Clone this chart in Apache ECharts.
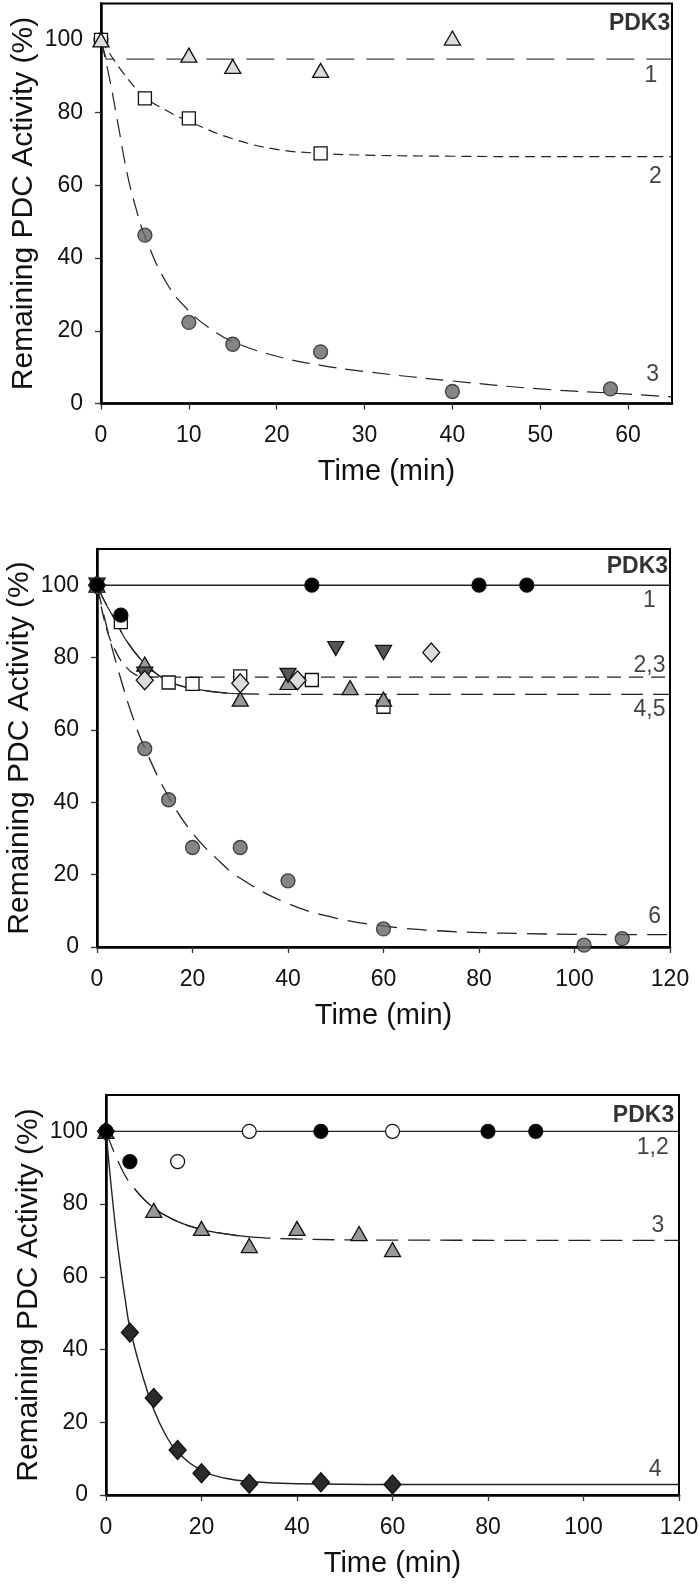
<!DOCTYPE html>
<html>
<head>
<meta charset="utf-8">
<script src="https://cdn.jsdelivr.net/npm/echarts@6/dist/echarts.min.js"></script>
<style>
html,body{margin:0;padding:0;background:#fff;}
#c{width:700px;height:1584px;}
</style>
</head>
<body>
<div id="c"></div>
<script>
// ---------- Data ----------
// Panel 1 (0-65 min)
const p1Triangles = [[0,100],[10,95.8],[15,92.7],[25,91.6],[40,100.5]];
const p1Squares   = [[0,100],[5,83.9],[10,78.4],[25,68.8]];
const p1Circles   = [[0,100],[5,46.3],[10,22.3],[15,16.3],[25,14.2],[40,3.3],[58,4.0]];
const p1Fit1 = [[0,100],[0.6,94.7],[65,94.7]];
const p1Fit2 = [[0,100],[2.5,91],[5,84.3],[7.5,80.5],[10,77.6],[15,72.8],[20,69.9],[25,68.8],[30,68.3],[40,68],[50,67.9],[65,67.9]];
const p1Fit3 = [[0,100],[1,89],[2,76],[3,63],[4,53.5],[5,46],[7.5,33],[10,25.5],[12.5,20.5],[15,17],[20,13],[25,10.5],[30,8.8],[40,6.2],[50,4.0],[60,2.6],[65,1.8]];
const p1Labels = [[64.8,104.4,'PDK3'],[62.6,90.1,'1'],[63.1,62.4,'2'],[62.8,7.8,'3']];

// Panel 2 (0-120 min)
const p2Black     = [[0,100],[5,91.7],[45,100],[80,100],[90,100]];
const p2Squares   = [[0,100],[5,89.8],[15,73.1],[20,72.7],[30,74.8],[45,73.8],[60,66.4]];
const p2Diamonds  = [[0,100],[10,73.7],[30,72.9],[42,73.7],[70,81.4]];
const p2DownTri   = [[0,100],[10,75.4],[40,75.1],[50,82.5],[60,81.4]];
const p2UpTri     = [[0,100],[10,78.2],[30,68.5],[40,73.1],[53,71.7],[60,68.5]];
const p2Circles   = [[0,100],[10,54.8],[15,40.7],[20,27.5],[30,27.5],[40,18.3],[60,5.0],[102,0.5],[110,2.3]];
const p2Fit1  = [[0,100],[120,100]];
const p2Fit23 = [[0,100],[2,88],[4,81.5],[6,77.5],[8,75.3],[10,74.7],[15,74.6],[30,74.6],[120,74.6]];
const p2Fit45 = [[0,100],[2,94.5],[3.8,90.4],[6,85],[9.3,79.3],[13,75],[17,72.4],[22,71],[27,70.2],[30,70],[40,69.8],[60,69.8],[120,69.8]];
const p2Fit6  = [[0,100],[2.5,86],[5,74],[7.5,63.5],[10,55],[15,41.5],[20,31.5],[25,24.5],[30,19],[40,12],[50,8],[60,5.8],[70,4.6],[80,4],[90,3.7],[100,3.5],[120,3.4]];
const p2Labels = [[119.6,105.2,'PDK3'],[115.7,95.6,'1'],[115.7,77.7,'2,3'],[115.7,65.6,'4,5'],[116.8,8.3,'6']];

// Panel 3 (0-120 min)
const p3Black    = [[0,100],[5,91.7],[45,100],[80,100],[90,100]];
const p3Open     = [[0,100],[15,91.7],[30,100],[60,100]];
const p3Tri      = [[0,100],[10,78.3],[20,73.3],[30,68.6],[40,73.3],[53,71.9],[60,67.5]];
const p3Diamonds = [[0,100],[5,44.7],[10,26.7],[15,12.4],[20,6.0],[30,3.1],[45,3.5],[60,2.9]];
const p3Fit12 = [[0,100],[120,100]];
const p3Fit3  = [[0,100],[3.3,89.6],[6,84.2],[9.5,79.5],[14,75.8],[19.5,73.2],[25,71.8],[30,71],[40,70.4],[60,70.1],[120,70]];
const p3Fit4  = [[0,100],[1,86],[2,73.5],[3,63],[4,54],[5,46],[7.5,33.5],[10,23.5],[12.5,16.5],[15,11.8],[20,6.8],[25,4.6],[30,3.7],[40,3.1],[60,2.9],[120,2.9]];
const p3Labels = [[119,104.3,'PDK3'],[114.5,95.5,'1,2'],[115.6,74.1,'3'],[115,6.9,'4']];

const yTicks = [0,20,40,60,80,100];
const xTicks1 = [0,10,20,30,40,50,60];
const xTicks2 = [0,20,40,60,80,100,120];

// ---------- Helpers ----------
const FONT = "'Liberation Sans', Arial, sans-serif";
function sub(arr, a, b){ return arr.filter(p => p[0] >= a && p[0] <= b); }

function scat(g, data, symbol, fill, size, extra){
  return Object.assign({
    type:'scatter', xAxisIndex:g, yAxisIndex:g, data:data, symbol:symbol,
    symbolSize:size, itemStyle:{color:fill, borderColor:'#111', borderWidth:1.3, opacity:1},
    z:5, silent:true
  }, extra||{});
}
function line(g, data, dash, width, smooth, z, color){
  return {
    type:'line', xAxisIndex:g, yAxisIndex:g, data:data, symbol:'none', showSymbol:false,
    smooth: smooth ? 0.45 : false,
    lineStyle:{type:dash, color:color||'#222', width:width||1.3}, z:z||3, silent:true, animation:false
  };
}
function labelsStyled(g, data){
  const s = {
    type:'scatter', xAxisIndex:g, yAxisIndex:g, data:data.filter(d => d[2] !== 'PDK3'), symbolSize:0, z:10, silent:true,
    label:{show:true, position:'inside', color:'#111', fontFamily:FONT, fontSize:23,
      formatter:p => p.data[2]}
  };
  const s2 = {
    type:'scatter', xAxisIndex:g, yAxisIndex:g, data:data.filter(d => d[2] === 'PDK3'), symbolSize:0, z:10, silent:true,
    label:{show:true, position:'inside', align:'right', color:'#000', fontFamily:FONT, fontSize:23, fontWeight:'bold',
      formatter:p => p.data[2]}
  };
  return [s, s2];
}

const grids = [
  {left:101, top:3.5, width:571, height:400},
  {left:97, top:549, width:573, height:398},
  {left:106, top:1095, width:573, height:400}
].map(g => Object.assign(g, {show:true, borderColor:'#000', borderWidth:2, backgroundColor:'transparent',
  containLabel:false, outerBoundsMode:'none'}));

function xAxis(g, max, ticks){
  return {
    type:'value', gridIndex:g, min:0, max:max, interval: ticks[1]-ticks[0],
    name:'Time (min)', nameLocation:'middle', nameGap:54, nameMoveOverlap:false,
    nameTextStyle:{fontFamily:FONT, fontSize:29, color:'#111'},
    axisLine:{show:true, onZero:false, lineStyle:{color:'#000', width:2.5}},
    axisTick:{show:true, inside:false, length:6, customValues:ticks, lineStyle:{color:'#333', width:1.3}},
    axisLabel:{show:true, margin:21, customValues:ticks, fontFamily:FONT, fontSize:23, color:'#111'},
    splitLine:{show:false}
  };
}
function yAxis(g){
  return {
    type:'value', gridIndex:g, min:0, max:110, interval:20,
    name:'Remaining PDC Activity (%)', nameLocation:'middle', nameGap:62, nameRotate:90, nameMoveOverlap:false,
    nameTextStyle:{fontFamily:FONT, fontSize:30, color:'#111'},
    axisLine:{show:true, onZero:false, lineStyle:{color:'#000', width:2.5}},
    axisTick:{show:true, inside:false, length:6, customValues:yTicks, lineStyle:{color:'#333', width:1.3}},
    axisLabel:{show:true, margin:18, customValues:yTicks, fontFamily:FONT, fontSize:23, color:'#111'},
    splitLine:{show:false}
  };
}

const series = [
  // Panel 1
  line(0, p1Fit1, [28,12], 1.3, false, 3, '#444'),
  line(0, p1Fit2, [10,6], 1.2, true),
  line(0, p1Fit3, [18,9], 1.2, true),
  scat(0, p1Circles, 'circle', '#666', 14, {itemStyle:{color:'#666', borderColor:'#222', borderWidth:1.3}}),
  scat(0, p1Squares, 'rect', '#fff', 13),
  scat(0, p1Triangles, 'triangle', '#dcdcdc', [16,14]),
  ...labelsStyled(0, p1Labels),

  // Panel 2
  line(1, p2Fit1, 'solid', 1.4, false),
  line(1, p2Fit23, [14,8], 1.3, true),
  line(1, p2Fit45, [22,10], 1.3, true),
  line(1, sub(p2Fit45, 0, 30), 'solid', 1.2, true, 4),
  line(1, p2Fit6, [20,10], 1.3, true),
  scat(1, p2Squares, 'rect', '#fff', 13),
  scat(1, p2UpTri, 'triangle', '#999', [16,14]),
  scat(1, p2DownTri, 'triangle', '#555', [16,14], {symbolRotate:180}),
  scat(1, p2Diamonds, 'diamond', '#dcdcdc', [17,19]),
  scat(1, p2Circles, 'circle', '#666', 14, {itemStyle:{color:'#666', borderColor:'#222', borderWidth:1.3}}),
  scat(1, p2Black, 'circle', '#000', 14),
  ...labelsStyled(1, p2Labels),

  // Panel 3
  line(2, p3Fit12, 'solid', 1.4, false),
  line(2, p3Fit3, [22,10], 1.3, true),
  line(2, sub(p3Fit3, 6, 30), 'solid', 1.2, true, 4),
  line(2, p3Fit4, 'solid', 1.4, true),
  scat(2, p3Tri, 'triangle', '#999', [16,14]),
  scat(2, p3Diamonds, 'diamond', '#2a2a2a', [17,19]),
  scat(2, p3Open, 'circle', '#fff', 14),
  scat(2, p3Black, 'circle', '#000', 14),
  ...labelsStyled(2, p3Labels)
];

const chart = echarts.init(document.getElementById('c'), null, {renderer:'canvas'});
chart.setOption({
  backgroundColor:'#fff',
  animation:false,
  textStyle:{fontFamily:FONT},
  grid: grids,
  xAxis: [xAxis(0, 65, xTicks1), xAxis(1, 120, xTicks2), xAxis(2, 120, xTicks2)],
  yAxis: [yAxis(0), yAxis(1), yAxis(2)],
  series: series
});
</script>
</body>
</html>
